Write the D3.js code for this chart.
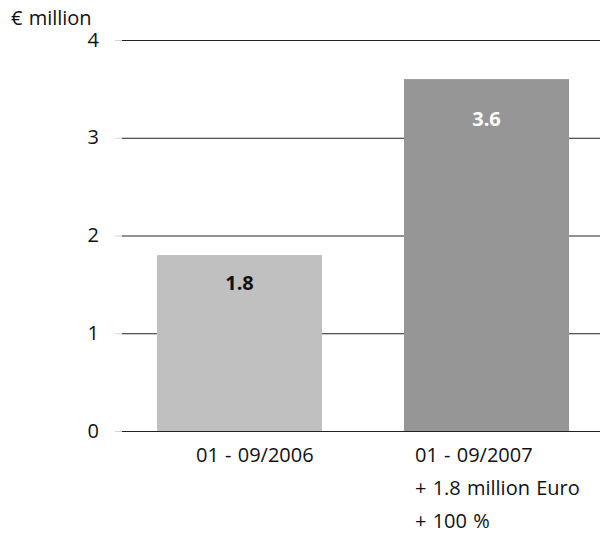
<!DOCTYPE html>
<html>
<head>
<meta charset="utf-8">
<script src="https://cdn.jsdelivr.net/npm/d3@7"></script>
<style>
  html, body { margin: 0; padding: 0; background: #fff; }
  svg text { font-family: "Open Sans", "Noto Sans", sans-serif; fill: #111; word-spacing: 1px; }
</style>
</head>
<body>
<svg id="chart" width="601" height="533"></svg>
<script>
// Revenue by period, € million
const categories = ["01 - 09/2006", "01 - 09/2007"];
const values = [1.8, 3.6];
const barColors = ["#c0c0c0", "#969696"];
const valueLabelColors = ["#111111", "#ffffff"];
const categoryNotes = [[], ["+ 1.8 million Euro", "+ 100 %"]];
const yTicks = [0, 1, 2, 3, 4];
const unitLabel = "€ million";

const svg = d3.select("#chart");
const width = 601;
const plotLeft = 122;

const y = d3.scaleLinear().domain([0, 4]).range([431, 40]);
const x = d3.scaleBand().domain(categories).range([157, 569]).paddingInner(0.332).paddingOuter(0);

// gridlines
const grid = svg.append("g").attr("transform", `translate(${plotLeft},0)`)
  .call(d3.axisLeft(y).tickValues(yTicks).tickSize(-(width - plotLeft - 1)).tickFormat(""));
grid.select(".domain").remove();
grid.selectAll(".tick line").attr("stroke", "#222").attr("stroke-width", 1);

// short light stubs left of the gridlines
svg.append("g").selectAll("line").data(yTicks).join("line")
  .attr("x1", 115).attr("x2", 122)
  .attr("y1", d => y(d) + 0.5).attr("y2", d => y(d) + 0.5)
  .attr("stroke", "#d4d4d4");

// y tick labels
svg.append("g").selectAll("text").data(yTicks).join("text")
  .attr("x", 99).attr("y", d => y(d) + 6.5)
  .attr("text-anchor", "end").attr("font-size", 20)
  .text(d => d);

svg.append("text").attr("x", 11).attr("y", 25).attr("font-size", 20).text(unitLabel);

// bars
svg.append("g").selectAll("rect").data(values).join("rect")
  .attr("x", (d, i) => x(categories[i]))
  .attr("width", x.bandwidth())
  .attr("y", d => y(d))
  .attr("height", d => y(0) - y(d))
  .attr("fill", (d, i) => barColors[i]);

// value labels inside the bars
const valueDy = [35, 47];
svg.append("g").selectAll("text").data(values).join("text")
  .attr("x", (d, i) => x(categories[i]) + x.bandwidth() / 2)
  .attr("y", (d, i) => y(d) + valueDy[i])
  .attr("text-anchor", "middle").attr("font-size", 20).attr("font-weight", "bold")
  .style("fill", (d, i) => valueLabelColors[i])
  .text(d => d.toFixed(1));

// category labels with notes
const labelOffsets = [39, 11];
const cat = svg.append("g").selectAll("text").data(categories).join("text")
  .attr("font-size", 20)
  .attr("x", (d, i) => x(d) + labelOffsets[i])
  .attr("y", 462);
cat.each(function(d, i) {
  const t = d3.select(this);
  [d, ...categoryNotes[i]].forEach((line, j) => {
    t.append("tspan").attr("x", x(d) + labelOffsets[i]).attr("dy", j === 0 ? 0 : 33).text(line);
  });
});
</script>
</body>
</html>
